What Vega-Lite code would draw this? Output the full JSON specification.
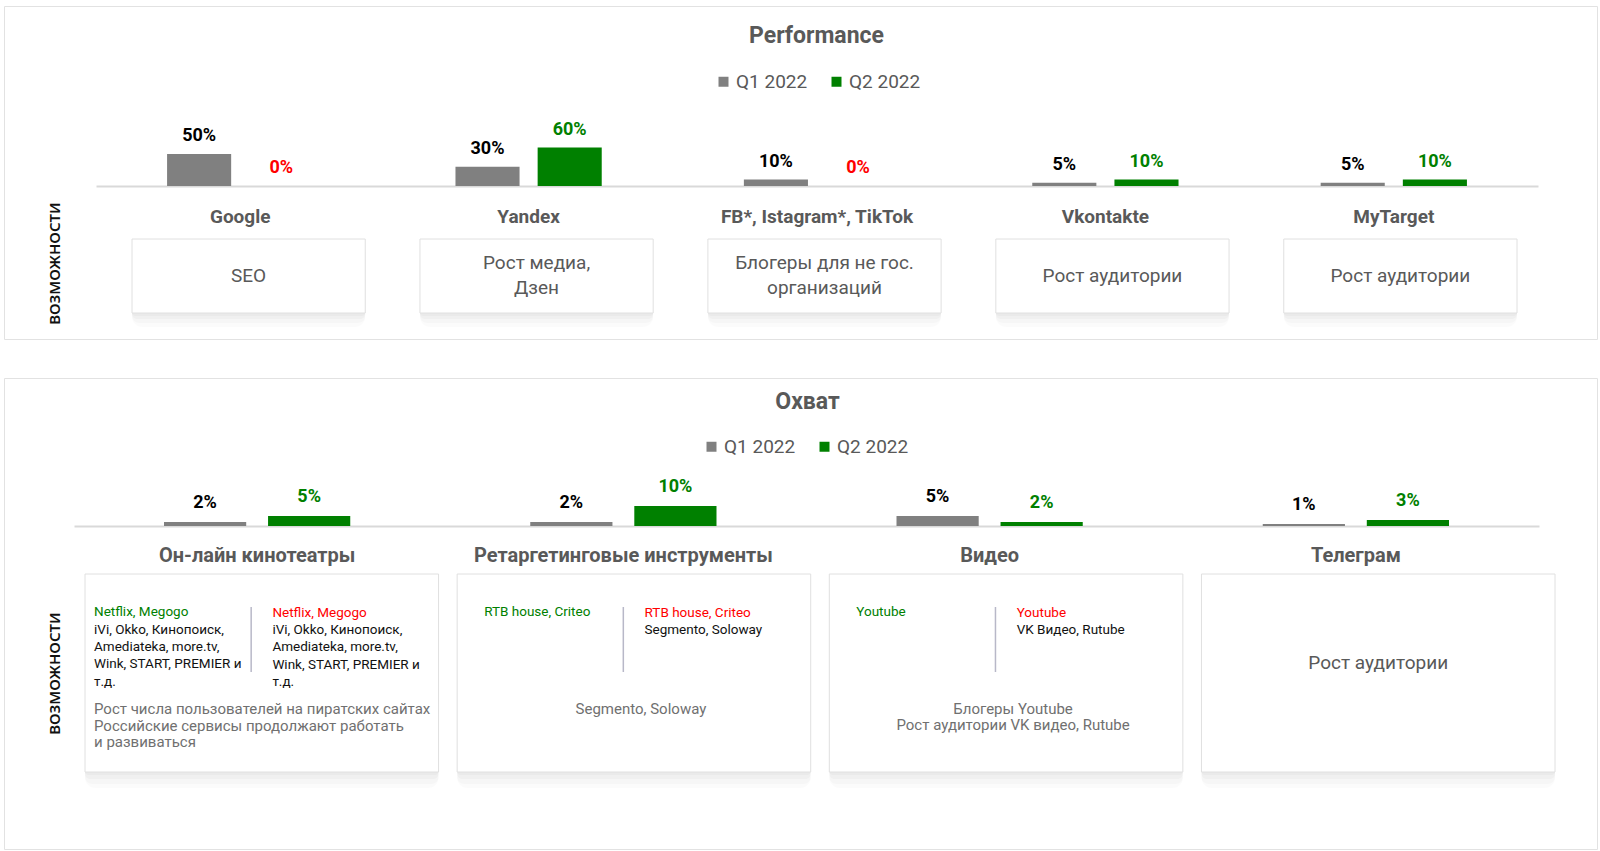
{
  "$schema": "https://vega.github.io/schema/vega-lite/v6.json",
  "background": "#ffffff",
  "padding": {"left": 3, "top": 5, "right": 0, "bottom": 0},
  "spacing": 37,
  "resolve": {"scale": {"color": "independent", "xOffset": "independent"}, "legend": {"color": "independent"}},
  "config": {
    "view": {"stroke": "#e2e2e2", "strokeWidth": 1},
    "font": "Roboto"
  },
  "datasets": {
    "perf": [
      {"cat": "Google", "quarter": "Q1 2022", "value": 0.5},
      {"cat": "Google", "quarter": "Q2 2022", "value": 0},
      {"cat": "Yandex", "quarter": "Q1 2022", "value": 0.3},
      {"cat": "Yandex", "quarter": "Q2 2022", "value": 0.6},
      {"cat": "FB*, Istagram*, TikTok", "quarter": "Q1 2022", "value": 0.1},
      {"cat": "FB*, Istagram*, TikTok", "quarter": "Q2 2022", "value": 0},
      {"cat": "Vkontakte", "quarter": "Q1 2022", "value": 0.05},
      {"cat": "Vkontakte", "quarter": "Q2 2022", "value": 0.1},
      {"cat": "MyTarget", "quarter": "Q1 2022", "value": 0.05},
      {"cat": "MyTarget", "quarter": "Q2 2022", "value": 0.1}
    ],
    "perfBoxes": [
      {"cat": "Google", "lines": ["SEO"]},
      {"cat": "Yandex", "lines": ["Рост медиа,", "Дзен"]},
      {"cat": "FB*, Istagram*, TikTok", "lines": ["Блогеры для не гос.", "организаций"]},
      {"cat": "Vkontakte", "lines": ["Рост аудитории"]},
      {"cat": "MyTarget", "lines": ["Рост аудитории"]}
    ],
    "reach": [
      {"cat": "Он-лайн кинотеатры", "quarter": "Q1 2022", "value": 0.02},
      {"cat": "Он-лайн кинотеатры", "quarter": "Q2 2022", "value": 0.05},
      {"cat": "Ретаргетинговые инструменты", "quarter": "Q1 2022", "value": 0.02},
      {"cat": "Ретаргетинговые инструменты", "quarter": "Q2 2022", "value": 0.1},
      {"cat": "Видео", "quarter": "Q1 2022", "value": 0.05},
      {"cat": "Видео", "quarter": "Q2 2022", "value": 0.02},
      {"cat": "Телеграм", "quarter": "Q1 2022", "value": 0.01},
      {"cat": "Телеграм", "quarter": "Q2 2022", "value": 0.03}
    ],
    "reachBoxes": [
      {"cat": "Он-лайн кинотеатры"},
      {"cat": "Ретаргетинговые инструменты"},
      {"cat": "Видео"},
      {"cat": "Телеграм"}
    ],
    "reachTexts": [
      {"cat": "Он-лайн кинотеатры", "kind": "q1head", "lines": ["Netflix, Megogo"]},
      {"cat": "Он-лайн кинотеатры", "kind": "q1body", "lines": ["iVi, Okko, Кинопоиск,", "Amediateka, more.tv,", "Wink, START, PREMIER и", "т.д."]},
      {"cat": "Он-лайн кинотеатры", "kind": "q2head", "lines": ["Netflix, Megogo"]},
      {"cat": "Он-лайн кинотеатры", "kind": "q2body", "lines": ["iVi, Okko, Кинопоиск,", "Amediateka, more.tv,", "Wink, START, PREMIER и", "т.д."]},
      {"cat": "Он-лайн кинотеатры", "kind": "note", "lines": ["Рост числа пользователей на пиратских сайтах", "Российские сервисы продолжают работать", "и развиваться"]},
      {"cat": "Ретаргетинговые инструменты", "kind": "q1head", "lines": ["RTB house, Criteo"]},
      {"cat": "Ретаргетинговые инструменты", "kind": "q2head", "lines": ["RTB house, Criteo"]},
      {"cat": "Ретаргетинговые инструменты", "kind": "q2body", "lines": ["Segmento, Soloway"]},
      {"cat": "Ретаргетинговые инструменты", "kind": "note", "lines": ["Segmento, Soloway"]},
      {"cat": "Видео", "kind": "q1head", "lines": ["Youtube"]},
      {"cat": "Видео", "kind": "q2head", "lines": ["Youtube"]},
      {"cat": "Видео", "kind": "q2body", "lines": ["VK Видео, Rutube"]},
      {"cat": "Видео", "kind": "note", "lines": ["Блогеры Youtube", "Рост аудитории VK видео, Rutube"]},
      {"cat": "Телеграм", "kind": "main", "lines": ["Рост аудитории"]}
    ]
  },
  "vconcat": [
    {
      "width": 1593,
      "height": 333,
      "title": {"text": "Performance", "anchor": "middle", "offset": -42, "dx": 16, "font": "Roboto", "fontSize": 23, "fontWeight": "bold", "color": "#595959"},
      "resolve": {"scale": {"x": "independent"}},
      "layer": [
        {
          "data": {"name": "perf"},
          "encoding": {
            "x": {"field": "cat", "type": "nominal", "sort": null,
              "scale": {"domain": ["Google", "Yandex", "FB*, Istagram*, TikTok", "Vkontakte", "MyTarget"], "range": [92, 1534], "paddingInner": 0, "paddingOuter": 0},
              "axis": {"orient": "bottom", "offset": -153, "title": null, "domainColor": "#d9d9d9", "domainWidth": 2, "ticks": false, "tickSize": 0, "labelAngle": 0, "labelFont": "Roboto", "labelFontSize": 19, "labelFontWeight": "bold", "labelColor": "#595959", "labelPadding": 30, "labelBaseline": "middle", "labelLimit": 400}},
            "xOffset": {"field": "quarter", "type": "nominal", "sort": null, "scale": {"paddingInner": 0.22, "paddingOuter": 0.865}},
            "y": {"field": "value", "type": "quantitative",
              "scale": {"domain": [0, 1], "range": [180, 116]},
              "axis": {"title": "ВОЗМОЖНОСТИ", "domain": false, "ticks": false, "labels": false, "grid": false, "titleX": 50, "titleY": 257, "titleAngle": 270, "titleAlign": "center", "titleBaseline": "middle", "titleFont": "Noto Sans", "titleFontSize": 15, "titleFontWeight": 600, "titleColor": "#111111"}}
          },
          "layer": [
            {
              "mark": {"type": "bar"},
              "encoding": {
                "color": {"field": "quarter", "type": "nominal",
                  "scale": {"domain": ["Q1 2022", "Q2 2022"], "range": ["#808080", "#008000"]},
                  "legend": {"orient": "none", "legendX": 710, "legendY": 66, "direction": "horizontal", "title": null, "padding": 0, "symbolType": "square", "symbolSize": 100, "symbolStrokeWidth": 0, "labelFont": "Roboto", "labelFontSize": 19, "labelColor": "#595959", "labelOffset": 3, "columnPadding": 19}}
              }
            },
            {
              "mark": {"type": "text", "baseline": "bottom", "dy": -9, "font": "Roboto", "fontSize": 18, "fontWeight": "bold"},
              "encoding": {
                "text": {"field": "value", "type": "quantitative", "format": ".0%"},
                "color": {"condition": [{"test": "datum.value === 0", "value": "#ff0000"}, {"test": "datum.quarter === 'Q1 2022'", "value": "#000000"}], "value": "#008000"}
              }
            }
          ]
        },
        {
          "data": {"name": "perfBoxes"},
          "encoding": {
            "x": {"field": "cat", "type": "nominal", "sort": null, "axis": null,
              "scale": {"domain": ["Google", "Yandex", "FB*, Istagram*, TikTok", "Vkontakte", "MyTarget"], "range": [128, 1513], "paddingInner": 0.19, "paddingOuter": 0}}
          },
          "layer": [
            {"mark": {"type": "rect", "y": 241, "y2": 321, "fill": "#000000", "opacity": 0.014, "cornerRadius": 10}},
            {"mark": {"type": "rect", "y": 239, "y2": 317, "fill": "#000000", "opacity": 0.018, "cornerRadius": 7}},
            {"mark": {"type": "rect", "y": 237, "y2": 313, "fill": "#000000", "opacity": 0.022, "cornerRadius": 5}},
            {"mark": {"type": "rect", "y": 235, "y2": 310, "fill": "#000000", "opacity": 0.025, "cornerRadius": 3}},
            {"mark": {"type": "rect", "y": 233, "y2": 307, "fill": "#ffffff", "stroke": "#e0e0e0", "strokeWidth": 1}},
            {
              "transform": [{"filter": "length(datum.lines) === 1"}],
              "mark": {"type": "text", "y": 269.5, "baseline": "middle", "align": "center", "font": "Roboto", "fontSize": 19, "lineHeight": 25, "color": "#595959"},
              "encoding": {"text": {"field": "lines"}}
            },
            {
              "transform": [{"filter": "length(datum.lines) > 1"}],
              "mark": {"type": "text", "y": 257, "baseline": "middle", "align": "center", "font": "Roboto", "fontSize": 19, "lineHeight": 25, "color": "#595959"},
              "encoding": {"text": {"field": "lines"}}
            }
          ]
        }
      ]
    },
    {
      "width": 1593,
      "height": 471,
      "title": {"text": "Охват", "anchor": "middle", "offset": -36, "dx": 7, "font": "Roboto", "fontSize": 23, "fontWeight": "bold", "color": "#595959"},
      "resolve": {"scale": {"x": "independent"}},
      "layer": [
        {
          "data": {"name": "reach"},
          "encoding": {
            "x": {"field": "cat", "type": "nominal", "sort": null,
              "scale": {"domain": ["Он-лайн кинотеатры", "Ретаргетинговые инструменты", "Видео", "Телеграм"], "range": [70, 1535], "paddingInner": 0, "paddingOuter": 0},
              "axis": {"orient": "bottom", "offset": -323, "title": null, "domainColor": "#d9d9d9", "domainWidth": 2, "ticks": false, "tickSize": 0, "labelAngle": 0, "labelFont": "Roboto", "labelFontSize": 20, "labelFontWeight": "bold", "labelColor": "#595959", "labelPadding": 29, "labelBaseline": "middle", "labelLimit": 400}},
            "xOffset": {"field": "quarter", "type": "nominal", "sort": null, "scale": {"paddingInner": 0.21, "paddingOuter": 0.865}},
            "y": {"field": "value", "type": "quantitative",
              "scale": {"domain": [0, 0.1], "range": [148, 128]},
              "axis": {"title": "ВОЗМОЖНОСТИ", "domain": false, "ticks": false, "labels": false, "grid": false, "titleX": 50, "titleY": 295, "titleAngle": 270, "titleAlign": "center", "titleBaseline": "middle", "titleFont": "Noto Sans", "titleFontSize": 15, "titleFontWeight": 600, "titleColor": "#111111"}}
          },
          "layer": [
            {
              "mark": {"type": "bar"},
              "encoding": {
                "color": {"field": "quarter", "type": "nominal",
                  "scale": {"domain": ["Q1 2022", "Q2 2022"], "range": ["#808080", "#008000"]},
                  "legend": {"orient": "none", "legendX": 698, "legendY": 59, "direction": "horizontal", "title": null, "padding": 0, "symbolType": "square", "symbolSize": 100, "symbolStrokeWidth": 0, "labelFont": "Roboto", "labelFontSize": 19, "labelColor": "#595959", "labelOffset": 3, "columnPadding": 19}}
              }
            },
            {
              "mark": {"type": "text", "baseline": "bottom", "dy": -10, "font": "Roboto", "fontSize": 18, "fontWeight": "bold"},
              "encoding": {
                "text": {"field": "value", "type": "quantitative", "format": ".0%"},
                "color": {"condition": [{"test": "datum.value === 0", "value": "#ff0000"}, {"test": "datum.quarter === 'Q1 2022'", "value": "#000000"}], "value": "#008000"}
              }
            }
          ]
        },
        {
          "encoding": {
            "x": {"field": "cat", "type": "nominal", "sort": null, "axis": null,
              "scale": {"domain": ["Он-лайн кинотеатры", "Ретаргетинговые инструменты", "Видео", "Телеграм"], "range": [81, 1551], "paddingInner": 0.05, "paddingOuter": 0}}
          },
          "layer": [
            {"data": {"name": "reachBoxes"}, "mark": {"type": "rect", "y": 204, "y2": 410, "fill": "#000000", "opacity": 0.014, "cornerRadius": 10}},
            {"data": {"name": "reachBoxes"}, "mark": {"type": "rect", "y": 202, "y2": 406, "fill": "#000000", "opacity": 0.018, "cornerRadius": 7}},
            {"data": {"name": "reachBoxes"}, "mark": {"type": "rect", "y": 200, "y2": 401, "fill": "#000000", "opacity": 0.022, "cornerRadius": 5}},
            {"data": {"name": "reachBoxes"}, "mark": {"type": "rect", "y": 198, "y2": 397, "fill": "#000000", "opacity": 0.025, "cornerRadius": 3}},
            {"data": {"name": "reachBoxes"}, "mark": {"type": "rect", "y": 196, "y2": 394, "fill": "#ffffff", "stroke": "#e0e0e0", "strokeWidth": 1}},
            {
              "data": {"name": "reachTexts"},
              "transform": [{"filter": "datum.kind === 'q1head'"}],
              "mark": {"type": "rule", "y": 229, "y2": 294, "stroke": "#b8b8c8", "strokeWidth": 1.5},
              "encoding": {"x": {"field": "cat", "type": "nominal", "sort": null, "bandPosition": 0.47}}
            },
            {
              "data": {"name": "reachTexts"},
              "transform": [{"filter": "datum.kind === 'q1head' && datum.cat === 'Он-лайн кинотеатры'"}],
              "mark": {"type": "text", "y": 238, "dx": 9, "align": "left", "baseline": "alphabetic", "font": "Roboto", "fontSize": 13.5, "color": "#008000"},
              "encoding": {"x": {"field": "cat", "type": "nominal", "sort": null, "bandPosition": 0}, "text": {"field": "lines"}}
            },
            {
              "data": {"name": "reachTexts"},
              "transform": [{"filter": "datum.kind === 'q1head' && datum.cat !== 'Он-лайн кинотеатры'"}],
              "mark": {"type": "text", "y": 238, "dx": 27, "align": "left", "baseline": "alphabetic", "font": "Roboto", "fontSize": 13.5, "color": "#008000"},
              "encoding": {"x": {"field": "cat", "type": "nominal", "sort": null, "bandPosition": 0}, "text": {"field": "lines"}}
            },
            {
              "data": {"name": "reachTexts"},
              "transform": [{"filter": "datum.kind === 'q1body'"}],
              "mark": {"type": "text", "y": 255.5, "dx": 9, "align": "left", "baseline": "alphabetic", "font": "Roboto", "fontSize": 13.5, "lineHeight": 17.4, "color": "#111111"},
              "encoding": {"x": {"field": "cat", "type": "nominal", "sort": null, "bandPosition": 0}, "text": {"field": "lines"}}
            },
            {
              "data": {"name": "reachTexts"},
              "transform": [{"filter": "datum.kind === 'q2head'"}],
              "mark": {"type": "text", "y": 238.5, "align": "left", "baseline": "alphabetic", "font": "Roboto", "fontSize": 13.5, "color": "#ff0000"},
              "encoding": {"x": {"field": "cat", "type": "nominal", "sort": null, "bandPosition": 0.53}, "text": {"field": "lines"}}
            },
            {
              "data": {"name": "reachTexts"},
              "transform": [{"filter": "datum.kind === 'q2body'"}],
              "mark": {"type": "text", "y": 256, "align": "left", "baseline": "alphabetic", "font": "Roboto", "fontSize": 13.5, "lineHeight": 17.4, "color": "#111111"},
              "encoding": {"x": {"field": "cat", "type": "nominal", "sort": null, "bandPosition": 0.53}, "text": {"field": "lines"}}
            },
            {
              "data": {"name": "reachTexts"},
              "transform": [{"filter": "datum.kind === 'note' && datum.cat === 'Он-лайн кинотеатры'"}],
              "mark": {"type": "text", "y": 336, "dx": 9, "align": "left", "baseline": "alphabetic", "font": "Roboto", "fontSize": 15, "lineHeight": 16.5, "color": "#707070"},
              "encoding": {"x": {"field": "cat", "type": "nominal", "sort": null, "bandPosition": 0}, "text": {"field": "lines"}}
            },
            {
              "data": {"name": "reachTexts"},
              "transform": [{"filter": "datum.kind === 'note' && datum.cat !== 'Он-лайн кинотеатры'"}],
              "mark": {"type": "text", "y": 335.5, "dx": 7, "align": "center", "baseline": "alphabetic", "font": "Roboto", "fontSize": 15, "lineHeight": 16.5, "color": "#707070"},
              "encoding": {"x": {"field": "cat", "type": "nominal", "sort": null, "bandPosition": 0.5}, "text": {"field": "lines"}}
            },
            {
              "data": {"name": "reachTexts"},
              "transform": [{"filter": "datum.kind === 'main'"}],
              "mark": {"type": "text", "y": 285, "align": "center", "baseline": "middle", "font": "Roboto", "fontSize": 19, "color": "#595959"},
              "encoding": {"x": {"field": "cat", "type": "nominal", "sort": null, "bandPosition": 0.5}, "text": {"field": "lines"}}
            }
          ]
        }
      ]
    }
  ]
}
